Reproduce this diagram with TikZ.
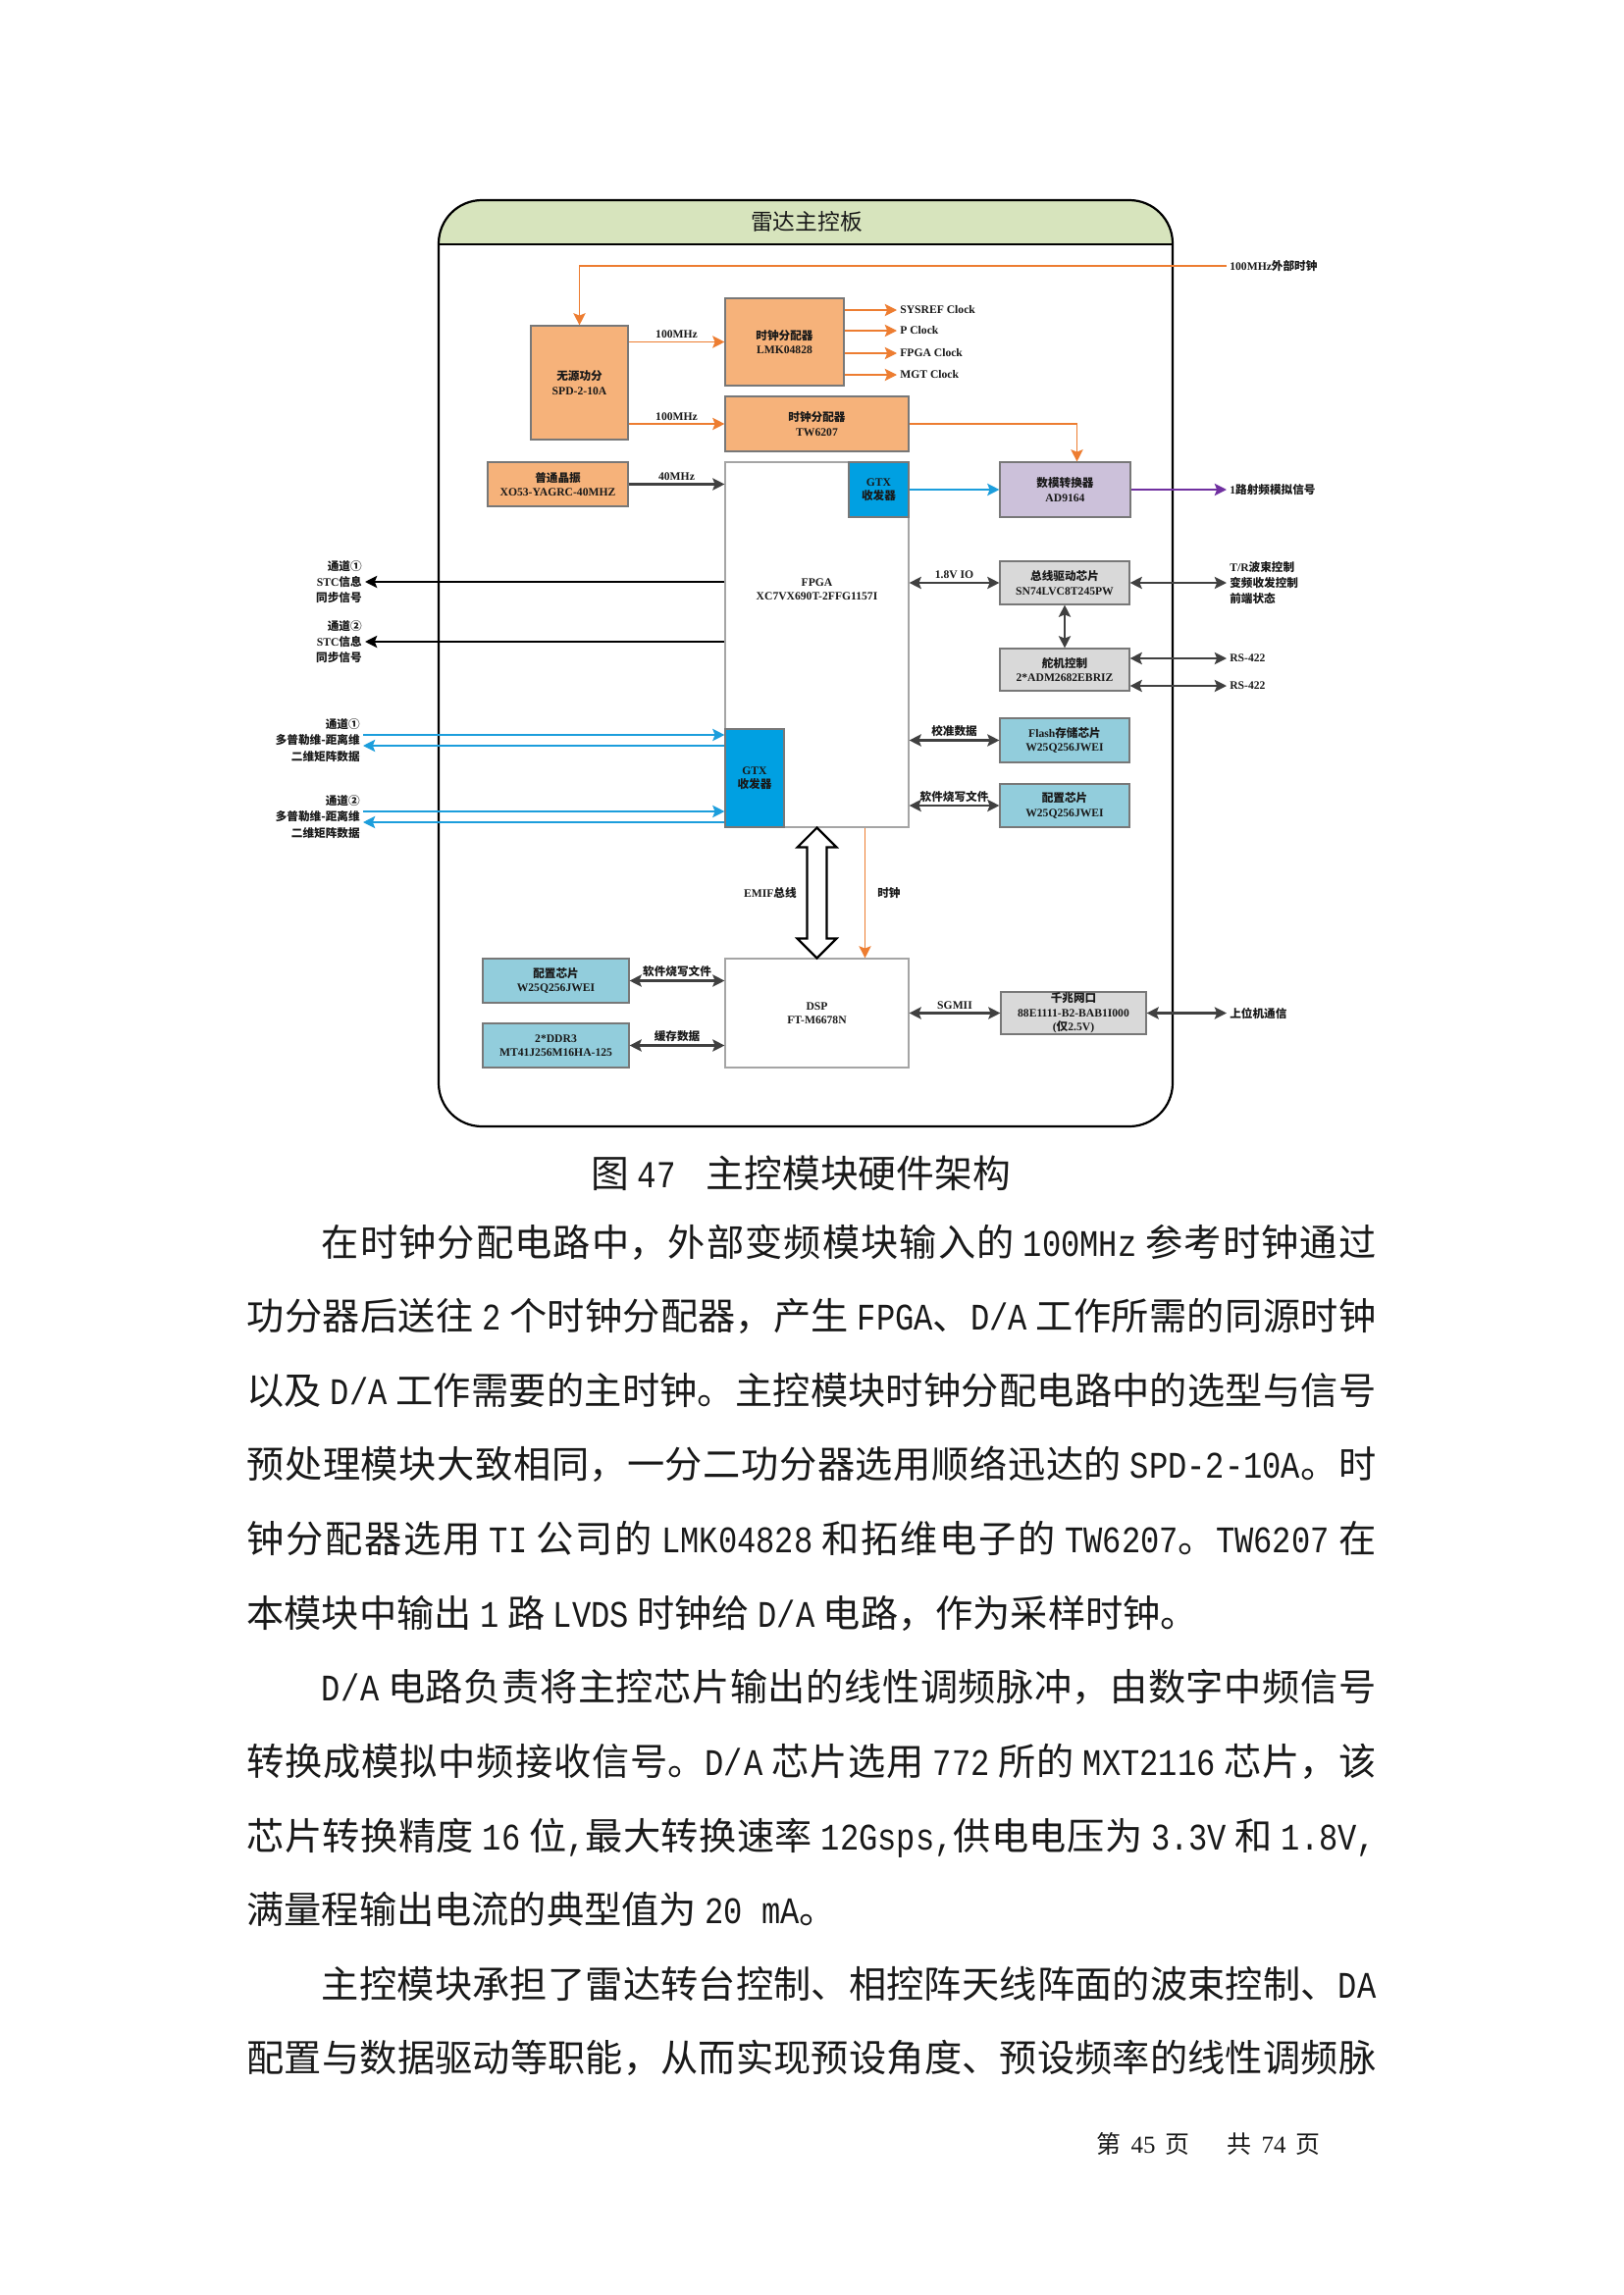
\documentclass[tikz,border=0pt]{standalone}
\usepackage{fontspec}
\setmainfont{Liberation Serif}
\newfontfamily\cjkfont{Noto Sans CJK SC}
\newfontfamily\monofont[FakeStretch=0.84]{Liberation Mono}
\usepackage{xcolor}
\usepackage{tikz}
\usetikzlibrary{arrows.meta,calc}
\XeTeXlinebreaklocale "zh"
\XeTeXlinebreakskip=0pt plus 3pt
\tolerance=9999
\emergencystretch=1em
\definecolor{inkblack}{RGB}{25,25,25}
\definecolor{boxgrey}{RGB}{120,120,120}
\definecolor{coregrey}{RGB}{165,165,165}
\definecolor{boardgreen}{RGB}{215,228,189}
\definecolor{clkorange}{RGB}{237,125,49}
\definecolor{clkfill}{RGB}{246,178,122}
\definecolor{gtxblue}{RGB}{0,160,226}
\definecolor{linkblue}{RGB}{28,158,220}
\definecolor{daclilac}{RGB}{204,193,218}
\definecolor{dacpurple}{RGB}{112,48,160}
\definecolor{iogrey}{RGB}{217,217,217}
\definecolor{memblue}{RGB}{146,205,220}
\definecolor{linkgrey}{RGB}{64,64,64}
\newlength{\px}
\setlength{\px}{0.12697mm}
\newcommand{\zh}[1]{{\cjkfont #1}}
\newcommand{\lat}[1]{{\monofont #1}}
\newcommand{\diagfont}{\fontsize{4.2pt}{5.2pt}\selectfont\bfseries}
\newcommand{\sidefont}{\fontsize{4.2pt}{5.8pt}\selectfont\bfseries}
\newcommand{\bodyfont}{\fontsize{13.8pt}{27.32pt}\cjkfont\selectfont}
\tikzset{
  chip/.style={draw=boxgrey,line width=0.4pt,align=center,inner sep=0pt,
    font=\diagfont,text=inkblack},
  clkchip/.style={chip,fill=clkfill},
  gtxchip/.style={chip,fill=gtxblue},
  dacchip/.style={chip,fill=daclilac},
  iochip/.style={chip,fill=iogrey},
  memchip/.style={chip,fill=memblue},
  corechip/.style={chip,fill=white,draw=coregrey},
  chiptext/.style={font=\diagfont,align=center,inner sep=0pt,text=inkblack},
  sidelabel/.style={font=\sidefont,inner sep=1pt,text=inkblack},
  linklabel/.style={font=\diagfont,inner sep=1pt,text=inkblack},
  clkline/.style={->,line width=0.7pt,draw=clkorange},
  bluelink/.style={->,line width=0.8pt,draw=linkblue,fill=linkblue},
  greylink/.style={->,line width=0.8pt,draw=linkgrey},
  stclink/.style={->,line width=1pt,draw=black},
  iolink/.style={<->,line width=0.8pt,draw=linkgrey},
  purplelink/.style={->,line width=0.8pt,draw=dacpurple},
  boardline/.style={line width=0.8pt,draw=black},
  bodytext/.style={text width=146.1mm,inner sep=0pt,align=justify,
    font=\bodyfont}
}

\begin{document}
\begin{tikzpicture}[x=0.12697mm,y=-0.12697mm,
  >={Stealth[length=1.55mm,width=1.55mm,inset=0.3mm]}]
  \fill[white] (0,0) rectangle (1654,2339);
  \useasboundingbox (0,0) rectangle (1654,2339);

  % board and header band
  \begin{scope}
    \clip (447,204) rectangle (1195,249);
    \fill[boardgreen,rounded corners=5.6mm] (447,204) rectangle (1195,1148);
  \end{scope}
  \node[boardline,rounded corners=5.6mm,minimum width=748\px,
    minimum height=944\px,inner sep=0pt] (board) at (821,676) {};
  \draw[boardline] (447,249) -- (1195,249);
  \node[font=\fontsize{8.2pt}{9pt}\cjkfont\selectfont,text=inkblack]
    (title) at (822,226) {雷达主控板};

  % clock section
  \node[clkchip,minimum width=99\px,minimum height=116\px] (spd)
    at (590.5,390) {\zh{无源功分}\\SPD-2-10A};
  \node[clkchip,minimum width=121\px,minimum height=89\px] (lmk)
    at (799.5,348.5) {\zh{时钟分配器}\\LMK04828};
  \node[clkchip,minimum width=187\px,minimum height=56\px] (tw)
    at (832.5,432) {\zh{时钟分配器}\\TW6207};
  \node[clkchip,minimum width=143\px,minimum height=45\px] (xo)
    at (568.5,493.5) {\zh{普通晶振}\\XO53-YAGRC-40MHZ};

  % processors
  \node[corechip,minimum width=187\px,minimum height=372\px] (fpga)
    at (832.5,657) {};
  \node[chiptext] (fpgatext) at (832.5,600.5) {FPGA\\XC7VX690T-2FFG1157I};
  \node[gtxchip,minimum width=61\px,minimum height=56\px] (gtxa)
    at (895.5,499) {GTX\\\zh{收发器}};
  \node[gtxchip,minimum width=60\px,minimum height=100\px] (gtxb)
    at (769,793) {GTX\\\zh{收发器}};
  \node[corechip,minimum width=187\px,minimum height=111\px] (dsp)
    at (832.5,1032.5) {DSP\\FT-M6678N};

  % peripherals
  \node[dacchip,minimum width=133\px,minimum height=56\px] (dac)
    at (1085.5,499) {\zh{数模转换器}\\AD9164};
  \node[iochip,minimum width=132\px,minimum height=44\px] (bus)
    at (1085,594) {\zh{总线驱动芯片}\\SN74LVC8T245PW};
  \node[iochip,minimum width=132\px,minimum height=43\px] (servo)
    at (1085,682.5) {\zh{舵机控制}\\2*ADM2682EBRIZ};
  \node[memchip,minimum width=132\px,minimum height=45\px] (flash)
    at (1085,754.5) {Flash\zh{存储芯片}\\W25Q256JWEI};
  \node[memchip,minimum width=132\px,minimum height=44\px] (cfga)
    at (1085,821) {\zh{配置芯片}\\W25Q256JWEI};
  \node[memchip,minimum width=149\px,minimum height=45\px] (cfgb)
    at (566.5,999.5) {\zh{配置芯片}\\W25Q256JWEI};
  \node[memchip,minimum width=149\px,minimum height=45\px] (ddr)
    at (566.5,1065.5) {2*DDR3\\MT41J256M16HA-125};
  \node[iochip,minimum width=148\px,minimum height=43\px] (phy)
    at (1094,1032.5) {\zh{千兆网口}\\88E1111-B2-BAB1I000\\(\zh{仅}2.5V)};

  % outside labels
  \node[sidelabel,anchor=west] (extclk) at (1250,271) {100MHz\zh{外部时钟}};
  \node[sidelabel,anchor=west] (sysref) at (914,316) {SYSREF Clock};
  \node[sidelabel,anchor=west] (pclk) at (914,337) {P Clock};
  \node[sidelabel,anchor=west] (fpgaclk) at (914,360) {FPGA Clock};
  \node[sidelabel,anchor=west] (mgtclk) at (914,382) {MGT Clock};
  \node[sidelabel,anchor=west] (rflbl) at (1250,499) {1\zh{路射频模拟信号}};
  \node[sidelabel,anchor=west,align=left] (trlbl) at (1250,594)
    {T/R\zh{波束控制}\\\zh{变频收发控制}\\\zh{前端状态}};
  \node[sidelabel,anchor=west] (rsa) at (1250,671) {RS-422};
  \node[sidelabel,anchor=west] (rsb) at (1250,699) {RS-422};
  \node[sidelabel,anchor=west] (hostlbl) at (1250,1032.5) {\zh{上位机通信}};
  \node[sidelabel,anchor=east,align=right] (stc1) at (372,593)
    {\zh{通道①}\\STC\zh{信息}\\\zh{同步信号}};
  \node[sidelabel,anchor=east,align=right] (stc2) at (372,654)
    {\zh{通道②}\\STC\zh{信息}\\\zh{同步信号}};
  \node[sidelabel,anchor=east,align=right] (dop1) at (370,754.5)
    {\zh{通道①}\\\zh{多普勒维-距离维}\\\zh{二维矩阵数据}};
  \node[sidelabel,anchor=east,align=right] (dop2) at (370,832.5)
    {\zh{通道②}\\\zh{多普勒维-距离维}\\\zh{二维矩阵数据}};

  % clock links
  \draw[clkline] (extclk.west) -| (spd.north);
  \draw[clkline] (spd.east |- lmk.west) -- node[linklabel,above] {100MHz}
    (lmk.west);
  \draw[clkline] (spd.east |- tw.west) -- node[linklabel,above] {100MHz}
    (tw.west);
  \draw[clkline] (lmk.east |- sysref.west) -- (sysref.west);
  \draw[clkline] (lmk.east |- pclk.west) -- (pclk.west);
  \draw[clkline] (lmk.east |- fpgaclk.west) -- (fpgaclk.west);
  \draw[clkline] (lmk.east |- mgtclk.west) -- (mgtclk.west);
  \draw[clkline] (tw.east) -| ($(dac.north)+(12,0)$);
  \draw[greylink] (xo.east) -- node[linklabel,above] {40MHz}
    (xo.east -| fpga.west);

  % FPGA links
  \draw[bluelink] (gtxa.east) -- (dac.west);
  \draw[purplelink] (dac.east) -- (rflbl.west);
  \draw[stclink] (fpga.west |- stc1.east) -- (stc1.east);
  \draw[stclink] (fpga.west |- stc2.east) -- (stc2.east);
  \draw[bluelink] ($(dop1.east)+(0,-5.5)$) -- ($(gtxb.west |- dop1.east)+(0,-5.5)$);
  \draw[bluelink] ($(gtxb.west |- dop1.east)+(0,5.5)$) -- ($(dop1.east)+(0,5.5)$);
  \draw[bluelink] ($(dop2.east)+(0,-5.5)$) -- ($(gtxb.west |- dop2.east)+(0,-5.5)$);
  \draw[bluelink] ($(gtxb.west |- dop2.east)+(0,5.5)$) -- ($(dop2.east)+(0,5.5)$);
  \draw[iolink] (fpga.east |- bus.west) -- node[linklabel,above] {1.8V IO}
    (bus.west);
  \draw[iolink] (bus.south) -- (servo.north);
  \draw[iolink] (bus.east) -- (trlbl.west);
  \draw[iolink] (servo.east |- rsa.west) -- (rsa.west);
  \draw[iolink] (servo.east |- rsb.west) -- (rsb.west);
  \draw[iolink] (fpga.east |- flash.west) -- node[linklabel,above]
    {\zh{校准数据}} (flash.west);
  \draw[iolink] (fpga.east |- cfga.west) -- node[linklabel,above]
    {\zh{软件烧写文件}} (cfga.west);

  % FPGA to DSP
  \draw[line width=0.8pt,fill=white] (fpga.south) -- ++(20,20) -- ++(-10,0)
    -- ($(dsp.north)+(10,-20)$) -- ++(10,0) -- (dsp.north) -- ++(-20,-20)
    -- ++(10,0) -- ($(fpga.south)+(-10,20)$) -- ++(-10,0) -- cycle;
  \node[linklabel,anchor=east] (emiflbl) at (815,910) {EMIF\zh{总线}};
  \draw[clkline,line width=0.45pt] ($(fpga.south)+(49,0)$)
    -- ($(dsp.north)+(49,0)$);
  \node[linklabel,anchor=west] (dspclk) at (891,910) {\zh{时钟}};

  % DSP links
  \draw[iolink] (cfgb.east) -- node[linklabel,above] {\zh{软件烧写文件}}
    (cfgb.east -| dsp.west);
  \draw[iolink] (ddr.east) -- node[linklabel,above] {\zh{缓存数据}}
    (ddr.east -| dsp.west);
  \draw[iolink] (dsp.east |- phy.west) -- node[linklabel,above] {SGMII}
    (phy.west);
  \draw[iolink] (phy.east) -- (hostlbl.west);

  % caption, body and page number
  \node[font=\fontsize{14pt}{16pt}\cjkfont\selectfont,inner sep=0pt,
    text=inkblack] (caption) at (816,1196)
    {图 \lat{47}\hspace{0.8em}主控模块硬件架构};
  \node[bodytext,anchor=north west,text=inkblack] (body) at (251,1247) {%
\hspace*{2em}在时钟分配电路中，外部变频模块输入的 \lat{100MHz} 参考时钟通过\linebreak
功分器后送往 \lat{2} 个时钟分配器，产生 \lat{FPGA}、\lat{D/A} 工作所需的同源时钟\linebreak
以及 \lat{D/A} 工作需要的主时钟。主控模块时钟分配电路中的选型与信号\linebreak
预处理模块大致相同，一分二功分器选用顺络迅达的 \lat{SPD-2-10A}。时\linebreak
钟分配器选用 \lat{TI} 公司的 \lat{LMK04828} 和拓维电子的 \lat{TW6207}。\lat{TW6207} 在\linebreak
本模块中输出 \lat{1} 路 \lat{LVDS} 时钟给 \lat{D/A} 电路，作为采样时钟。\par
\hspace*{2em}\lat{D/A} 电路负责将主控芯片输出的线性调频脉冲，由数字中频信号\linebreak
转换成模拟中频接收信号。\lat{D/A} 芯片选用 \lat{772} 所的 \lat{MXT2116} 芯片，该\linebreak
芯片转换精度 \lat{16} 位\lat{,}最大转换速率 \lat{12Gsps,}供电电压为 \lat{3.3V} 和 \lat{1.8V,}\linebreak
满量程输出电流的典型值为 \lat{20 mA}。\par
\hspace*{2em}主控模块承担了雷达转台控制、相控阵天线阵面的波束控制、\lat{DA}\linebreak
配置与数据驱动等职能，从而实现预设角度、预设频率的线性调频脉{\parfillskip=0pt\par}};
  \node[font=\fontsize{9pt}{11pt}\selectfont,anchor=west,inner sep=0pt,
    text=inkblack] (pagefoot) at (1117,2185)
    {\zh{第}\hspace{1.3mm}45\hspace{1.3mm}\zh{页}\hspace{4.8mm}\zh{共}%
    \hspace{1.3mm}74\hspace{1.3mm}\zh{页}};
\end{tikzpicture}
\end{document}
